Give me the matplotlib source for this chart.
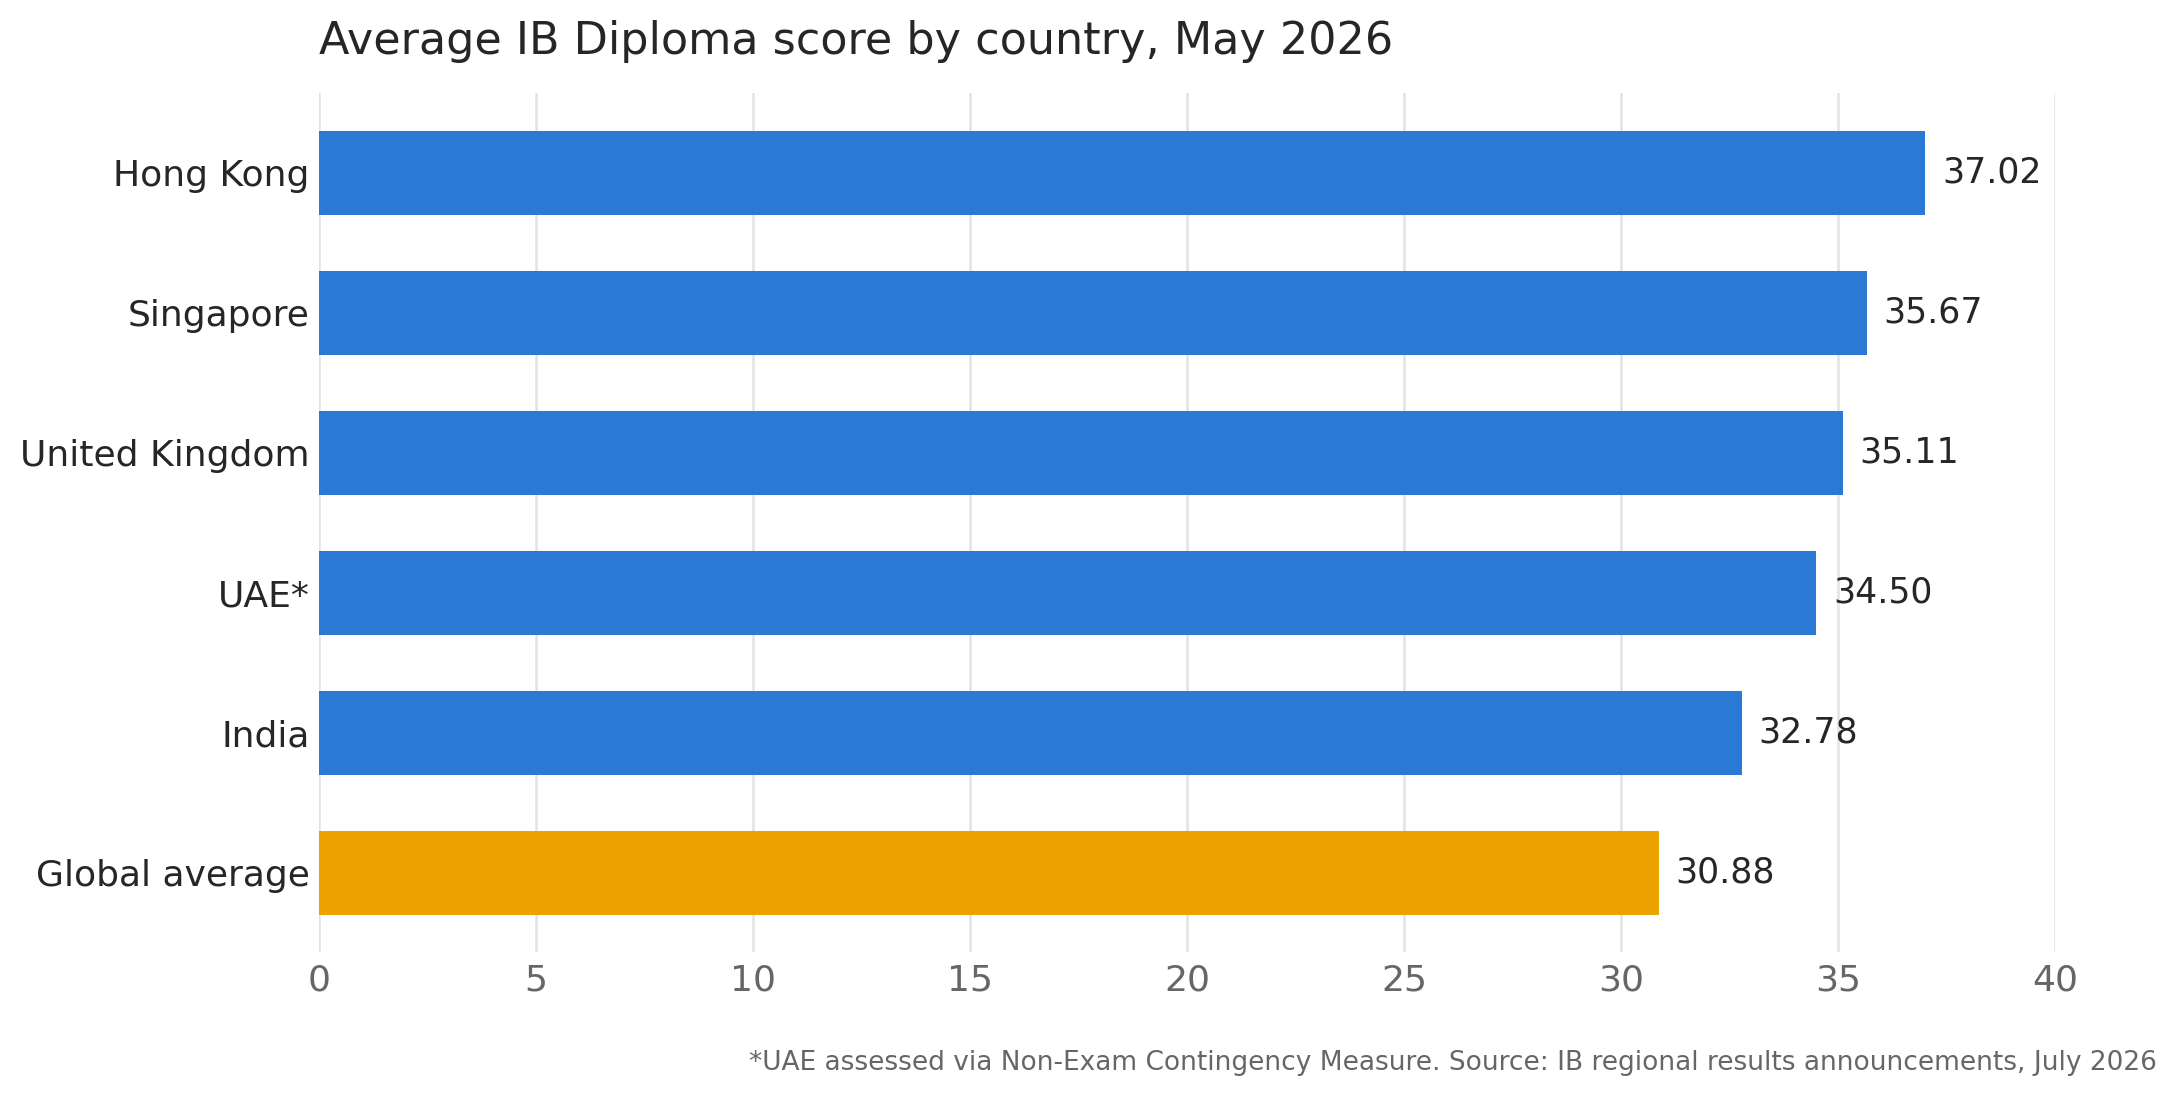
import matplotlib.pyplot as plt

# data
countries = ['Hong Kong', 'Singapore', 'United Kingdom', 'UAE*', 'India', 'Global average']
scores = [37.02, 35.67, 35.11, 34.50, 32.78, 30.88]
bar_colors = ['#2a7ad5', '#2a7ad5', '#2a7ad5', '#2a7ad5', '#2a7ad5', '#eca200']
x_ticks = [0, 5, 10, 15, 20, 25, 30, 35, 40]

fig = plt.figure(figsize=(10.895, 5.48), dpi=200)
ax = fig.add_axes([0.1465, 0.131, 0.7965, 0.784])

ypos = list(range(len(countries)))
ax.barh(ypos, scores, height=0.6, color=bar_colors, zorder=2)

for y, v in zip(ypos, scores):
    ax.annotate(f'{v:.2f}', xy=(v, y), xytext=(6, 0), textcoords='offset points',
                va='center', ha='left', fontsize=12.5, color='#262626')

ax.set_yticks(ypos)
ax.set_yticklabels(countries, fontsize=13, color='#262626')
ax.set_ylim(5.57, -0.57)
ax.set_xlim(0, 40)
ax.set_xticks(x_ticks)
ax.set_xticklabels([str(t) for t in x_ticks], fontsize=13, color='#666666')
ax.tick_params(axis='y', length=0, pad=3.5)
ax.tick_params(axis='x', length=0, pad=4)

ax.grid(axis='x', color='#e2e2de', linewidth=0.9, zorder=0)
ax.grid(axis='y', visible=False)
for s in ax.spines.values():
    s.set_visible(False)

ax.set_title('Average IB Diploma score by country, May 2026', loc='left',
             fontsize=16, color='#262626', pad=14)

fig.text(0.99, 0.03, '*UAE assessed via Non-Exam Contingency Measure. Source: IB regional results announcements, July 2026',
         ha='right', va='center', fontsize=9.5, color='#666666')

fig.savefig('out.png', dpi=200)
